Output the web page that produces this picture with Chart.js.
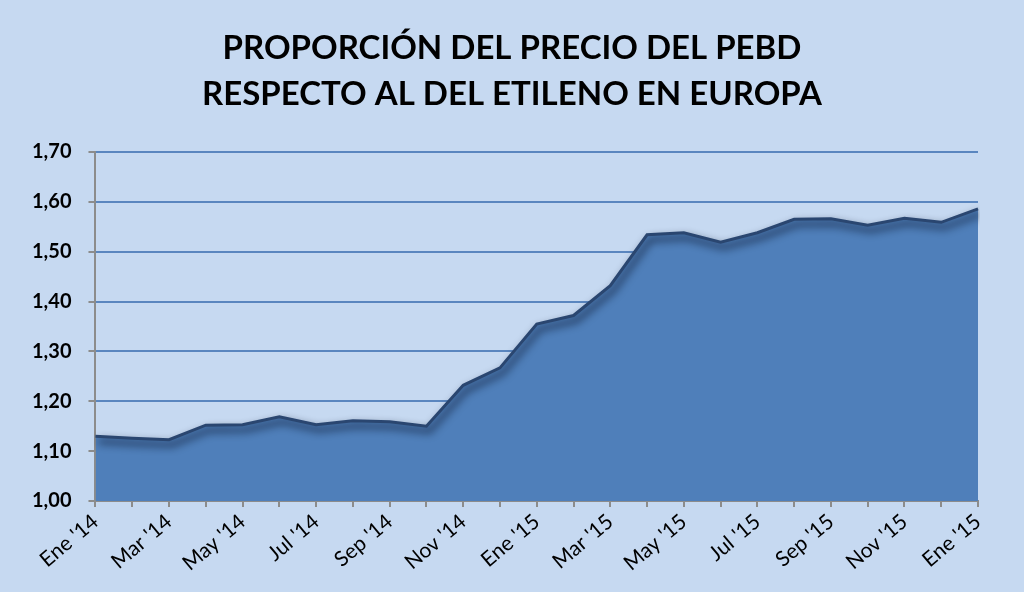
<!DOCTYPE html>
<html>
<head>
<meta charset="utf-8">
<script src="https://cdn.jsdelivr.net/npm/chart.js@4.4.1/dist/chart.umd.min.js"></script>
<style>
html,body{margin:0;padding:0;background:#C6D9F1;}
#wrap{width:1024px;height:592px;position:relative;}
</style>
</head>
<body>
<div id="wrap"><canvas id="c" width="1024" height="592"></canvas></div>
<script>
const titleLines = ["PROPORCIÓN DEL PRECIO DEL PEBD", "RESPECTO AL DEL ETILENO EN EUROPA"];
const months = ["Ene '14","Feb '14","Mar '14","Abr '14","May '14","Jun '14","Jul '14","Ago '14","Sep '14","Oct '14","Nov '14","Dic '14",
                "Ene '15","Feb '15","Mar '15","Abr '15","May '15","Jun '15","Jul '15","Ago '15","Sep '15","Oct '15","Nov '15","Dic '15","Ene '15"];
const ratio = [1.130,1.126,1.123,1.152,1.153,1.169,1.153,1.161,1.159,1.150,1.232,1.267,
               1.355,1.372,1.432,1.534,1.538,1.519,1.538,1.565,1.566,1.553,1.567,1.559,1.586];
const yMin = 1.0, yMax = 1.7, yStep = 0.1;

const shadowPlugin = {
  id: 'edgeShadow',
  beforeDatasetDraw(chart) {
    const ctx = chart.ctx;
    ctx.save();
    ctx.shadowColor = 'rgba(8,18,40,1)';
    ctx.shadowBlur = 9;
    ctx.shadowOffsetX = 3;
    ctx.shadowOffsetY = 5;
  },
  afterDatasetDraw(chart) {
    chart.ctx.restore();
  }
};

const titlePlugin = {
  id: 'centeredTitle',
  afterDraw(chart) {
    const ctx = chart.ctx;
    ctx.save();
    ctx.fillStyle = '#000';
    ctx.font = 'bold 33px Lato';
    ctx.textAlign = 'center';
    ctx.textBaseline = 'alphabetic';
    ctx.fillText(titleLines[0], chart.width / 2, 59);
    ctx.fillText(titleLines[1], chart.width / 2, 105);
    ctx.restore();
  }
};

new Chart(document.getElementById('c'), {
  type: 'line',
  data: {
    labels: months,
    datasets: [{
      data: ratio,
      fill: 'start',
      backgroundColor: '#4F7FBA',
      borderColor: '#2A4670',
      borderWidth: 3,
      pointRadius: 0,
      tension: 0
    }]
  },
  options: {
    responsive: false,
    animation: false,
    devicePixelRatio: 1,
    layout: { padding: { left: 15, right: 46, top: 152, bottom: 14 } },
    plugins: {
      legend: { display: false },
      tooltip: { enabled: false },
      title: { display: false }
    },
    scales: {
      x: {
        offset: false,
        border: { color: '#8C8C8C', width: 2 },
        grid: { drawOnChartArea: false, drawTicks: true, tickLength: 6, color: '#8C8C8C', lineWidth: 2 },
        ticks: {
          autoSkip: false,
          minRotation: 40, maxRotation: 40,
          color: '#000',
          font: { family: 'Lato', size: 21 },
          padding: 2,
          callback: (v, i) => (i % 2 === 0 ? months[i] : '')
        }
      },
      y: {
        min: yMin, max: yMax,
        border: { color: '#8C8C8C', width: 2 },
        grid: { color: '#5A86BF', lineWidth: 2, tickColor: '#8C8C8C', tickLength: 7 },
        ticks: {
          stepSize: yStep,
          color: '#000',
          font: { family: 'Lato', weight: 'bold', size: 20 },
          padding: 17,
          callback: v => Number(v).toFixed(2).replace('.', ',')
        }
      }
    }
  },
  plugins: [shadowPlugin, titlePlugin]
});
</script>
</body>
</html>
